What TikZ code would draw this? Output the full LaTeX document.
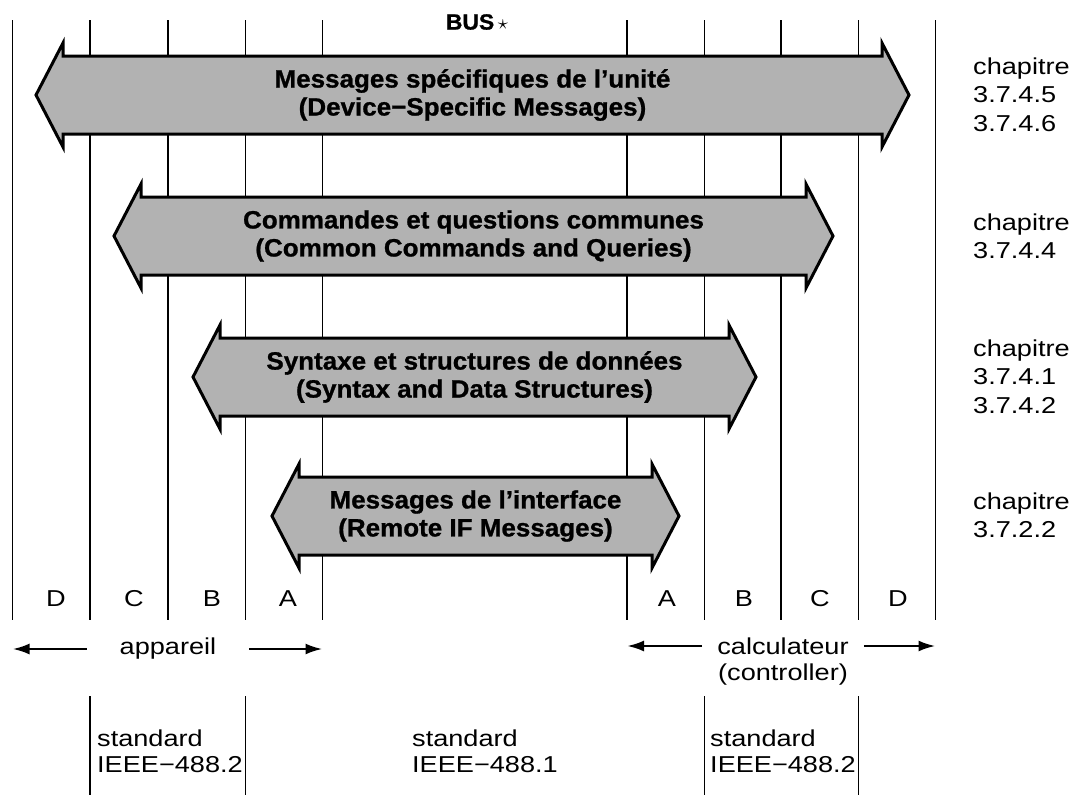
\documentclass[tikz,border=0pt]{standalone}
\usepackage{fontspec}
\setmainfont{Liberation Sans}[FakeStretch=1.18]
\newfontfamily\msgfont{Liberation Sans}[FakeStretch=1.04, FakeBold=1]
\usepackage{tikz}
\usetikzlibrary{arrows.meta, positioning, calc}
\tikzstyle{arrow}=[-{Latex[length=17pt,width=11pt]}, line width=2.6pt]

% double arrow body with its text: name, left tip, right tip, y, text
\newcommand{\msgarrow}[5]{%
  \draw[msgshape] (#2,#4) -- ({#2+27},{#4-52}) -- ({#2+27},{#4-39})
    -- ({#3-27},{#4-39}) -- ({#3-27},{#4-52}) -- (#3,#4)
    -- ({#3-27},{#4+52}) -- ({#3-27},{#4+39}) -- ({#2+27},{#4+39})
    -- ({#2+27},{#4+52}) -- cycle;
  \node[msgtext] (#1) at ({(#2+#3)/2},#4) {#5};}

\begin{document}
\begin{tikzpicture}[x=1pt, y=-1pt,
  busline/.style={line width=1.2pt},
  msgshape/.style={draw=black, fill=black!30, line width=3pt, line join=miter},
  msgtext/.style={align=center, inner sep=0pt,
                  font=\msgfont\bfseries\fontsize{25}{28}\selectfont},
  lbl/.style={inner sep=0pt, font=\fontsize{23}{26}\selectfont},
  chap/.style={lbl, anchor=north west, align=left, font=\fontsize{23}{28.5}\selectfont},
  std/.style={lbl, anchor=north west, align=left}
]
\useasboundingbox (0,0) rectangle (1080,795);

% bus lines, appareil side and calculateur side
\coordinate (l0) at (12.5,620);  \coordinate (l1) at (90,620);
\coordinate (l2) at (168,620);   \coordinate (l3) at (245.5,620);
\coordinate (l4) at (322.5,620);
\coordinate (r0) at (627,620);   \coordinate (r1) at (704.5,620);
\coordinate (r2) at (781,620);   \coordinate (r3) at (858.5,620);
\coordinate (r4) at (935.5,620);
\draw[busline] (12.5,20) -- (l0) (90,20) -- (l1) (168,20) -- (l2)
  (245.5,20) -- (l3) (322.5,20) -- (l4);
\draw[busline] (627,20) -- (r0) (704.5,20) -- (r1) (781,20) -- (r2)
  (858.5,20) -- (r3) (935.5,20) -- (r4);

\node[inner sep=0pt, font=\msgfont\bfseries\fontsize{22}{24}\selectfont]
     (bus) at (477,22) {BUS\,$\star$};

\msgarrow{devmsg}{36}{909}{95}{Messages spécifiques de l’unité\\(Device−Specific Messages)}
\msgarrow{common}{114}{833}{236}{Commandes et questions communes\\(Common Commands and Queries)}
\msgarrow{syntax}{193}{756}{377}{Syntaxe et structures de données\\(Syntax and Data Structures)}
\msgarrow{remote}{272}{679}{516}{Messages de l’interface\\(Remote IF Messages)}

\node[chap] (chap1) at (973,57.5)  {chapitre\\3.7.4.5\\3.7.4.6};
\node[chap] (chap2) at (973,213.5) {chapitre\\3.7.4.4};
\node[chap] (chap3) at (973,339.5) {chapitre\\3.7.4.1\\3.7.4.2};
\node[chap] (chap4) at (973,492.5) {chapitre\\3.7.2.2};

% layers
\node[lbl] (devD) at (56,599)  {D};
\node[lbl] (devC) at (134,599) {C};
\node[lbl] (devB) at (212,599) {B};
\node[lbl] (devA) at (288,599) {A};
\node[lbl] (ctlA) at (667,599) {A};
\node[lbl] (ctlB) at (744,599) {B};
\node[lbl] (ctlC) at (820,599) {C};
\node[lbl] (ctlD) at (898,599) {D};

\node[lbl, inner xsep=33pt] (dev) at (168,649) {appareil};
\draw[arrow] (dev.west) -- (dev.west -| l0);
\draw[arrow] (dev.east) -- (dev.east -| l4);

\node[lbl, inner xsep=15pt] (ctl) at (783,646) {calculateur};
\node[lbl, below=9pt of ctl] (ctlen) {(controller)};
\draw[arrow] (ctl.west) -- (ctl.west -| r0);
\draw[arrow] (ctl.east) -- (ctl.east -| r4);

% standards
\draw[busline] (90,696) -- (90,795) (245.5,696) -- (245.5,795)
  (704.5,696) -- (704.5,795) (858.5,696) -- (858.5,795);
\node[std] (stddev) at (97,730)  {standard\\IEEE−488.2};
\node[std] (stdbus) at (412,730) {standard\\IEEE−488.1};
\node[std] (stdctl) at (710,730) {standard\\IEEE−488.2};
\end{tikzpicture}
\end{document}
